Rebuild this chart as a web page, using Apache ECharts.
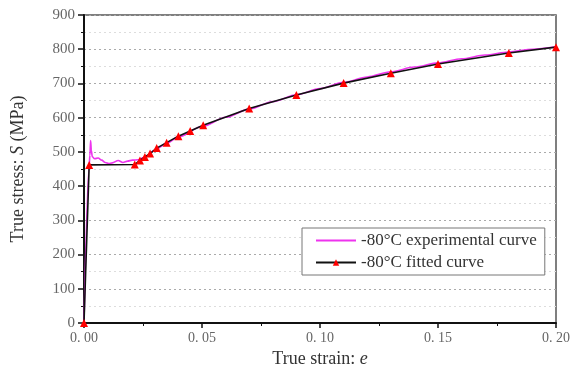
<!DOCTYPE html>
<html>
<head>
<meta charset="utf-8">
<script src="https://cdn.jsdelivr.net/npm/echarts@6/dist/echarts.min.js"></script>
<style>
  html, body { margin: 0; padding: 0; background: #fff; }
  #chart { width: 575px; height: 373px; }
</style>
</head>
<body>
<div id="chart"></div>
<script>
// fitted curve (black line, red triangles)
const strainFit = [0, 0.0022, 0.0215, 0.0237, 0.0258, 0.028, 0.0308, 0.035, 0.04, 0.045, 0.0505, 0.07, 0.09, 0.11, 0.13, 0.15, 0.18, 0.2];
const stressFit = [0, 462, 463, 475, 485, 495, 511, 527, 546, 561, 578, 627, 666, 701, 730, 757, 789, 806];

// experimental curve (magenta)
const strainExp = [0, 0.0022, 0.0025, 0.0028, 0.0031, 0.0035, 0.0045, 0.006, 0.0075, 0.009, 0.0105, 0.012, 0.0145, 0.0165, 0.0185, 0.0205, 0.023, 0.026, 0.03, 0.035, 0.04, 0.05, 0.06, 0.07, 0.08, 0.09, 0.1, 0.11, 0.12, 0.13, 0.14, 0.15, 0.16, 0.17, 0.18, 0.19, 0.2];
const stressExp = [0, 462, 490, 533, 505, 486, 480, 482, 476, 469, 466, 468, 475, 469, 473, 476, 477, 486, 505, 525, 544, 574, 601, 625, 647, 667, 685, 703, 719, 734, 748, 760, 772, 783, 792, 800, 807];

const SERIF = '"Liberation Serif", "DejaVu Serif", serif';

function pairs(xs, ys) {
  return xs.map((x, i) => [x, ys[i]]);
}

const chart = echarts.init(document.getElementById('chart'));

chart.setOption({
  backgroundColor: '#fff',
  animation: false,
  grid: {
    left: 84, right: 19, top: 15, bottom: 50,
    show: true, borderColor: '#555', borderWidth: 1.5
  },
  legend: {
    orient: 'vertical',
    left: 302, top: 228,
    padding: [4, 8, 4, 13],
    itemWidth: 40, itemHeight: 8, itemGap: 5,
    borderColor: '#777', borderWidth: 1,
    backgroundColor: '#fff',
    textStyle: { fontFamily: SERIF, fontSize: 17, color: '#333' },
    data: [
      { name: '-80°C experimental curve', itemStyle: { opacity: 0 } },
      { name: '-80°C fitted curve' }
    ]
  },
  xAxis: {
    type: 'value',
    min: 0, max: 0.2, interval: 0.05,
    name: 'True strain: {i|e}',
    nameLocation: 'middle',
    nameGap: 26,
    nameTextStyle: {
      fontFamily: SERIF, fontSize: 18, color: '#333',
      rich: { i: { fontFamily: SERIF, fontSize: 18, fontStyle: 'italic', color: '#333' } }
    },
    axisLine: { lineStyle: { color: '#111', width: 2 } },
    axisTick: { length: 5, lineStyle: { color: '#111', width: 1.5 } },
    minorTick: { show: true, splitNumber: 2, length: 3, lineStyle: { color: '#111' } },
    axisLabel: {
      fontFamily: SERIF, fontSize: 14, color: '#666', margin: 8,
      formatter: v => v.toFixed(2).replace('.', '. ')
    },
    splitLine: { show: false }
  },
  yAxis: {
    type: 'value',
    min: 0, max: 900, interval: 100,
    name: 'True stress: {i|S} (MPa)',
    nameLocation: 'middle',
    nameGap: 57,
    nameTextStyle: {
      fontFamily: SERIF, fontSize: 18, color: '#333',
      rich: { i: { fontFamily: SERIF, fontSize: 18, fontStyle: 'italic', color: '#333' } }
    },
    axisLine: { show: true, lineStyle: { color: '#111', width: 2 } },
    axisTick: { show: true, length: 6, lineStyle: { color: '#111', width: 1.5 } },
    minorTick: { show: true, splitNumber: 2, length: 3, lineStyle: { color: '#111' } },
    axisLabel: { fontFamily: SERIF, fontSize: 15, color: '#666', margin: 9 },
    splitLine: { show: true, lineStyle: { color: '#aaa', type: [2, 3], width: 1 } },
    minorSplitLine: { show: true, lineStyle: { color: '#ddd', type: [2, 3], width: 1 } }
  },
  series: [
    {
      name: '-80°C experimental curve',
      type: 'line',
      data: pairs(strainExp, stressExp),
      symbol: 'none',
      smooth: 0.3,
      smoothMonotone: 'x',
      lineStyle: { color: '#ee33ee', width: 1.6 },
      itemStyle: { color: '#ee33ee' },
      z: 2
    },
    {
      name: '-80°C fitted curve',
      type: 'line',
      data: pairs(strainFit, stressFit),
      symbol: 'triangle',
      symbolSize: 8,
      lineStyle: { color: '#111', width: 1.6 },
      itemStyle: { color: '#ff0000' },
      clip: false,
      z: 3
    }
  ]
});
</script>
</body>
</html>
